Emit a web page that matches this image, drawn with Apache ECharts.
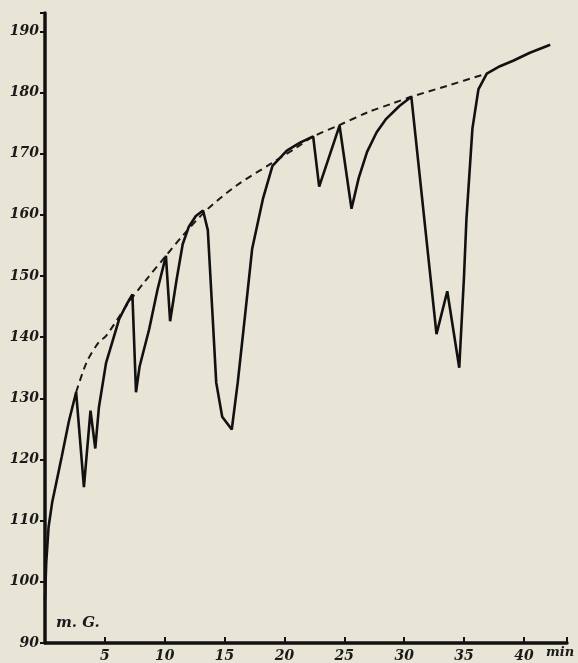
<!DOCTYPE html>
<html lang="en">
<head>
    <meta charset="UTF-8">
    <title>m.G.</title>
    <script src="https://cdn.jsdelivr.net/npm/echarts@6/dist/echarts.min.js"></script>
    <style>
        body { margin:0; background:#e8e5d6; }
    </style>
</head>
<body>
    <div id="ec" style="width:578px;height:663px"></div>
</body>
<script>
    // minutes, value
    var curve = [
        [0, 97], [0.1, 103], [0.3, 109], [0.6, 113], [0.9, 115.8], [1.4, 120.5], [2.0, 126.3], [2.6, 131],
        [3.25, 115.5], [3.8, 128], [4.2, 121.8], [4.5, 128.5], [5.1, 135.8], [6.2, 143], [6.8, 145.3], [7.3, 147],
        [7.6, 131], [7.9, 135.2], [8.7, 141.3], [9.4, 147.8], [10.1, 153.3],
        [10.45, 142.6], [11.0, 149.5], [11.5, 155.2], [12.0, 158], [12.6, 159.8], [13.2, 160.7],
        [13.6, 157.5], [14.0, 143.4], [14.3, 132.6], [14.8, 127], [15.6, 124.9],
        [16.1, 132.6], [16.7, 143.4], [17.3, 154.4], [18.2, 162.6], [19.0, 168], [20.2, 170.5], [21.3, 171.8], [22.4, 172.8],
        [22.9, 164.6], [24.6, 174.6], [25.6, 161], [26.2, 166], [26.9, 170.3], [27.7, 173.5], [28.5, 175.7], [29.6, 177.8], [30.6, 179.3],
        [32.7, 140.5], [33.6, 147.5], [34.6, 135], [35.0, 150], [35.2, 159.3], [35.7, 174.1], [36.2, 180.5], [36.9, 183.1],
        [38.0, 184.3], [39.1, 185.2], [40.5, 186.5], [42.2, 187.8]
    ]
    var envelope = [
        [2.6, 131], [3.5, 136], [4.5, 139.2], [5.1, 140.2], [7.0, 145.7], [8.5, 149.5], [10.1, 153.3], [11.5, 156.6],
        [13.5, 160.8], [16.0, 164.8], [18.9, 168.4], [21.0, 171], [22.4, 172.8], [24.5, 174.6], [27.0, 176.8],
        [29.0, 178.2], [30.6, 179.3], [33.6, 181.1], [36.9, 183.1]
    ]
    var xTicks = [5, 10, 15, 20, 25, 30, 35, 40]
    var yTicks = [90, 100, 110, 120, 130, 140, 150, 160, 170, 180, 190]

    var hand = { fontFamily:'DejaVu Serif', fontStyle:'italic', fontWeight:'bold', color:'#1a1a1a' }

    var mychart = echarts.init(document.getElementById('ec'))
    var options = {
        backgroundColor:'#e8e5d6',
        animation:false,
        grid:{ left:45, right:11, top:13, bottom:20 },
        xAxis:{
            type:'value', min:0, max:43.6, interval:5,
            axisLine:{ lineStyle:{ color:'#111', width:3.5 } },
            axisTick:{ inside:true, length:6, lineStyle:{ color:'#111', width:2 } },
            splitLine:{ show:false },
            axisLabel:Object.assign({
                fontSize:14, margin:6,
                formatter:function(v) { return xTicks.indexOf(v) >= 0 ? String(v) : '' }
            }, hand)
        },
        yAxis:{
            type:'value', min:90, max:193, interval:10,
            axisLine:{ show:true, lineStyle:{ color:'#111', width:3.5 } },
            axisTick:{ show:true, length:5, lineStyle:{ color:'#111', width:2 } },
            splitLine:{ show:false },
            axisLabel:Object.assign({
                fontSize:14, margin:6,
                formatter:function(v) { return yTicks.indexOf(v) >= 0 ? String(v) : '' }
            }, hand)
        },
        graphic:[
            { type:'text', left:56, top:616, style:Object.assign({ text:'m. G.', fontSize:15, fill:'#1a1a1a' }, hand) },
            { type:'text', left:546, top:646, style:Object.assign({ text:'min', fontSize:13, fill:'#1a1a1a' }, hand) }
        ],
        series:[{
            type:'line',
            data:envelope,
            symbol:'none',
            smooth:0.3,
            lineStyle:{ color:'#1a1a1a', width:2, type:[7, 5] },
            z:2
        },{
            type:'line',
            data:curve,
            symbol:'none',
            lineStyle:{ color:'#111', width:2.6 },
            z:3
        }]
    }
    mychart.setOption(options)
</script>
</html>
